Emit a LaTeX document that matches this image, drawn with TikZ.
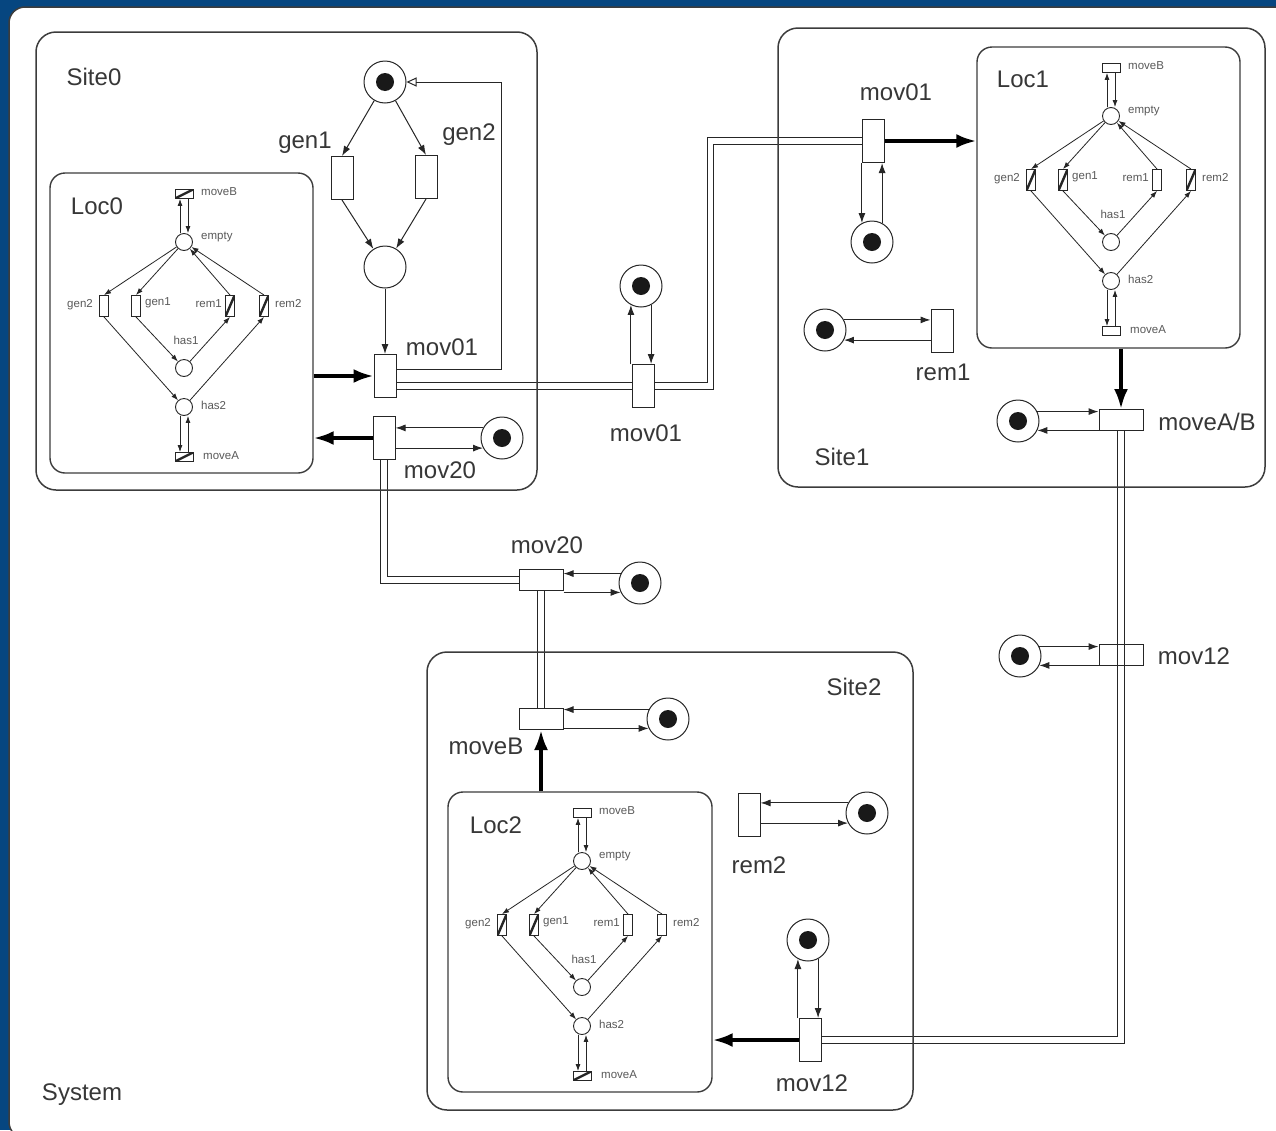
\documentclass[tikz,border=0pt]{standalone}
\usepackage{fontspec}
\setmainfont{Liberation Sans}
\usetikzlibrary{arrows.meta}
\definecolor{bgblue}{RGB}{6,70,128}
\definecolor{txt}{RGB}{55,55,55}
\definecolor{boxc}{RGB}{60,60,60}
\pgfdeclarelayer{background}
\pgfdeclarelayer{dbllayer}
\pgfsetlayers{background,dbllayer,main}
\tikzset{
 pl/.style={circle,draw=black!85,line width=1pt,minimum size=42pt,inner sep=0pt,fill=white},
 tok/.style={pl,path picture={\fill[black!90] (path picture bounding box.center) circle (9pt);}},
 tv/.style={rectangle,draw=black!85,line width=1pt,fill=white,minimum width=22pt,minimum height=43pt,inner sep=0pt},
 th/.style={tv,minimum width=44pt,minimum height=21pt},
 spl/.style={circle,draw=black!85,line width=0.9pt,minimum size=17pt,inner sep=0pt,fill=white},
 stok/.style={spl,path picture={\fill (path picture bounding box.center) circle (3pt);}},
 svt/.style={rectangle,draw=black!85,line width=0.9pt,fill=white,minimum width=9pt,minimum height=21pt,inner sep=0pt},
 sht/.style={svt,minimum width=18pt,minimum height=9pt},
 hat/.style={path picture={\draw[line width=2.4pt,black!85] (path picture bounding box.south west) -- (path picture bounding box.north east);}},
 nohat/.style={},
 big/.style={font=\fontsize{24}{28}\selectfont,text=txt,inner sep=0pt},
 sml/.style={font=\fontsize{11.5}{13}\selectfont,text=black!65,inner sep=0pt},
 na/.style={draw=black!85,line width=1pt,-{Latex[length=10pt,width=7pt]}},
 sa/.style={draw=black!85,line width=0.8pt,-{Latex[length=7pt,width=5pt]}},
 ta/.style={draw=black,line width=3.6pt,-{Latex[length=20pt,width=14pt]}},
 ret/.style={draw=black!85,line width=1pt,-{Triangle[open,length=10pt,width=9pt]}},
 dbl/.style={draw=black!85,line width=1.1pt,double=white,double distance=5.5pt},
 sitebox/.style={draw=boxc,line width=1.5pt,rounded corners=20pt,inner sep=0pt},
 locbox/.style={draw=boxc,line width=1.4pt,rounded corners=15pt,inner sep=0pt},
}
% #1 prefix, #2 shift, #3 moveB, #4 gen2, #5 gen1, #6 rem1, #7 rem2, #8 moveA, #9 empty style
\newcommand\LocNet[9]{%
 \begin{scope}[shift={(#2)}]
  \node[sht,#3] (#1mB) at (134,21) {};
  \node[#9] (#1em) at (134,69) {};
  \node[svt,#4] (#1g2) at (54,133) {};
  \node[svt,#5] (#1g1) at (86,133) {};
  \node[svt,#6] (#1r1) at (180,133) {};
  \node[svt,#7] (#1r2) at (214,133) {};
  \node[spl] (#1h1) at (134,195) {};
  \node[spl] (#1h2) at (134,234) {};
  \node[sht,#8] (#1mA) at (134,284) {};
  \node[sml,anchor=west] (#1lmB) at (151,19) {moveB};
  \node[sml,anchor=west] (#1lem) at (151,64) {empty};
  \node[sml,anchor=east] (#1lg2) at (43,132) {gen2};
  \node[sml,anchor=west] (#1lg1) at (95,130) {gen1};
  \node[sml,anchor=east] (#1lr1) at (172,131) {rem1};
  \node[sml,anchor=west] (#1lr2) at (225,131) {rem2};
  \node[sml] (#1lh1) at (136,167) {has1};
  \node[sml,anchor=west] (#1lh2) at (151,232) {has2};
  \node[sml,anchor=west] (#1lmA) at (153,283) {moveA};
  \draw[sa] ([xshift=-4pt]#1em.north) -- ([xshift=-4pt]#1mB.south);
  \draw[sa] ([xshift=4pt]#1mB.south) -- ([xshift=4pt]#1em.north);
  \draw[sa] (#1em) -- (#1g2.north);
  \draw[sa] (#1em) -- (#1g1.north);
  \draw[sa] (#1r1.north) -- (#1em);
  \draw[sa] (#1r2.north) -- (#1em);
  \draw[sa] (#1g1.south) -- (#1h1);
  \draw[sa] (#1h1) -- (#1r1.south);
  \draw[sa] (#1g2.south) -- (#1h2);
  \draw[sa] (#1h2) -- (#1r2.south);
  \draw[sa] ([xshift=-4pt]#1h2.south) -- ([xshift=-4pt]#1mA.north);
  \draw[sa] ([xshift=4pt]#1mA.north) -- ([xshift=4pt]#1h2.south);
 \end{scope}}

\begin{document}
\begin{tikzpicture}[x=1pt,y=-1pt]
\useasboundingbox (0,0) rectangle (1276,1130);
\clip (0,0) rectangle (1276,1130);
\begin{pgfonlayer}{background}
 \fill[bgblue] (0,0) rectangle (1276,1130);
 \node[draw=boxc,line width=1.5pt,rounded corners=16pt,fill=white,inner sep=0pt,
   minimum width=1291pt,minimum height=1131pt] (sys) at (654.5,572.5) {};
\end{pgfonlayer}
\node[big] (lsys) at (82,1095) {System};

% boxes
\node[sitebox,minimum width=501pt,minimum height=458pt] (site0) at (286.5,261) {};
\node[locbox,minimum width=263pt,minimum height=300pt] (loc0) at (181.5,323) {};
\node[sitebox,minimum width=487pt,minimum height=459pt] (site1) at (1021.5,257.5) {};
\node[locbox,minimum width=263pt,minimum height=301pt] (loc1) at (1108.5,197.5) {};
\node[sitebox,minimum width=486pt,minimum height=458pt] (site2) at (670,881) {};
\node[locbox,minimum width=264pt,minimum height=300pt] (loc2) at (580,942) {};
\node[big] (lsite0) at (94,77) {Site0};
\node[big] (lloc0) at (97,206) {Loc0};
\node[big] (lsite1) at (842,457) {Site1};
\node[big] (lloc1) at (1023,79) {Loc1};
\node[big] (lsite2) at (854,687) {Site2};
\node[big] (lloc2) at (496,825) {Loc2};

% location nets
\LocNet{Z}{50,173}{hat}{nohat}{nohat}{hat}{hat}{hat}{stok}
\LocNet{O}{977,47}{nohat}{hat}{hat}{nohat}{hat}{nohat}{spl}
\LocNet{T}{448,792}{nohat}{hat}{hat}{nohat}{nohat}{hat}{spl}

% Site0
\node[tok] (gp) at (385,82) {};
\node[tv] (g1) at (342,178) {};
\node[tv] (g2) at (426,177) {};
\node[pl] (mp) at (385,267) {};
\node[tv] (m01a) at (385,376) {};
\node[tv] (m20a) at (384,438) {};
\node[tok] (p20a) at (502,438) {};
\node[big] (lg1) at (305,143) {gen1};
\node[big] (lg2) at (469,135) {gen2};
\node[big] (lm01a) at (442,347) {mov01};
\node[big] (lm20a) at (440,470) {mov20};

% middle
\node[tv] (m01m) at (643,386) {};
\node[tok] (p01m) at (641,286) {};
\node[th] (m20m) at (541,580) {};
\node[tok] (p20m) at (640,583) {};
\node[big] (lm01m) at (646,433) {mov01};
\node[big] (lm20m) at (547,545) {mov20};

% Site1
\node[tv] (m01c) at (873,141) {};
\node[tok] (p01c) at (872,242) {};
\node[tv] (r1) at (942,331) {};
\node[tok] (pr1) at (825,330) {};
\node[th] (mAB) at (1121,420) {};
\node[tok] (pAB) at (1018,421) {};
\node[big] (lm01c) at (896,92) {mov01};
\node[big] (lr1) at (943,372) {rem1};
\node[big] (lmAB) at (1207,422) {moveA/B};

% right
\node[th,fill=none] (m12r) at (1121,655) {};
\node[tok] (p12r) at (1020,656) {};
\node[big] (lm12r) at (1194,656) {mov12};

% Site2
\node[th] (mBs2) at (541,719) {};
\node[tok] (pBs2) at (668,719) {};
\node[tv] (r2) at (749,815) {};
\node[tok] (pr2) at (867,813) {};
\node[tv] (m12b) at (810,1040) {};
\node[tok] (p12b) at (808,940) {};
\node[big] (lmBs2) at (486,746) {moveB};
\node[big] (lr2) at (759,865) {rem2};
\node[big] (lm12b) at (812,1083) {mov12};

% Site0 arcs
\draw[na] (gp) -- (g1.north);
\draw[na] (gp) -- (g2.north);
\draw[na] (g1.south) -- (mp);
\draw[na] (g2.south) -- (mp);
\draw[na] (mp) -- (m01a.north);
\draw[ret] ([yshift=7pt]m01a.east) -- ++(105,0) |- (gp.east);
\draw[na] (p20a.152) -- (p20a.152 -| m20a.east);
\draw[na] (p20a.208 -| m20a.east) -- (p20a.208);
\draw[ta] (m01a.west -| loc0.east) -- (m01a.west);
\draw[ta] (m20a.west) -- (m20a.west -| loc0.east);

% middle arcs
\draw[na] (p01m.242 |- m01m.north) -- (p01m.242);
\draw[na] (p01m.298) -- (p01m.298 |- m01m.north);
\draw[na] (p20m.154) -- (p20m.154 -| m20m.east);
\draw[na] (p20m.206 -| m20m.east) -- (p20m.206);

% Site1 arcs
\draw[ta] (m01c.east) -- (m01c.east -| loc1.west);
\draw[na] (p01c.118 |- m01c.south) -- (p01c.118);
\draw[na] (p01c.62) -- (p01c.62 |- m01c.south);
\draw[na] (pr1.28) -- (pr1.28 -| r1.west);
\draw[na] (pr1.332 -| r1.west) -- (pr1.332);
\draw[ta] (mAB.north |- loc1.south) -- (mAB.north);
\draw[na] (pAB.26) -- (pAB.26 -| mAB.west);
\draw[na] (pAB.334 -| mAB.west) -- (pAB.334);

% right arcs
\draw[na] (p12r.26) -- (p12r.26 -| m12r.west);
\draw[na] (p12r.334 -| m12r.west) -- (p12r.334);

% Site2 arcs
\draw[na] (pBs2.154) -- (pBs2.154 -| mBs2.east);
\draw[na] (pBs2.206 -| mBs2.east) -- (pBs2.206);
\draw[ta] (mBs2.south |- loc2.north) -- (mBs2.south);
\draw[na] (pr2.152) -- (pr2.152 -| r2.east);
\draw[na] (pr2.208 -| r2.east) -- (pr2.208);
\draw[na] (p12b.242 |- m12b.north) -- (p12b.242);
\draw[na] (p12b.298) -- (p12b.298 |- m12b.north);
\draw[ta] (m12b.west) -- (m12b.west -| loc2.east);

% double lines
\begin{pgfonlayer}{dbllayer}
\draw[dbl] (m01a.east |- m01m) -- (m01m.west);
\draw[dbl] (m01m.east) -- ++(56,0) |- (m01c.west);
\draw[dbl] (m20a.south) |- (m20m.west);
\draw[dbl] (m20m.south) -- (mBs2.north);
\draw[dbl] (mAB.south) |- (m12b.east);
\end{pgfonlayer}
\end{tikzpicture}
\end{document}
